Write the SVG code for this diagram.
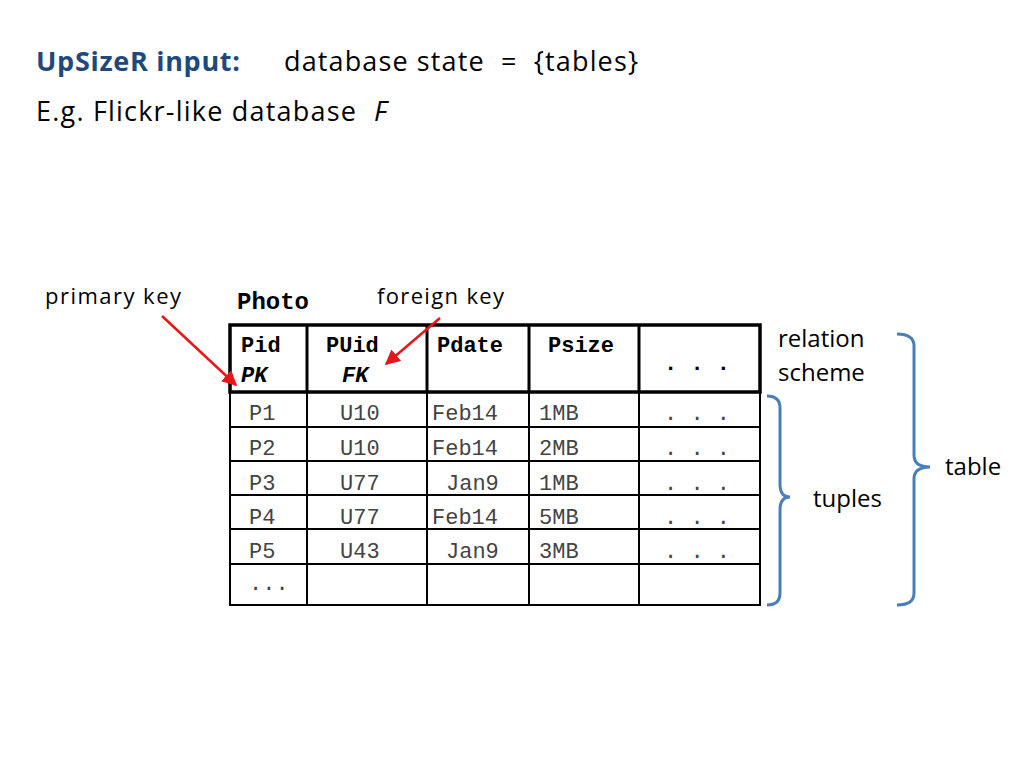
<svg xmlns="http://www.w3.org/2000/svg" width="1024" height="768" viewBox="0 0 1024 768">
<style>
.s{font-family:"Open Sans","Liberation Sans",sans-serif;font-size:24px;fill:#000;white-space:pre}
.m{font-family:"Liberation Mono",monospace;font-size:22px;fill:#444}
.h{font-family:"Liberation Mono",monospace;font-size:22px;font-weight:bold;fill:#000}
.g{stroke:#000;stroke-width:2;fill:none}
.b{stroke:#4a7ebb;stroke-width:3;fill:none}
.r{stroke:#e8161b;stroke-width:2.5;fill:none}
</style>
<defs><marker id="a" viewBox="0 0 10 10" refX="9" refY="5" markerWidth="6" markerHeight="6" orient="auto"><path d="M0,0L10,5L0,10z" fill="#e8161b"/></marker></defs>
<rect width="1024" height="768" fill="#fff"/>
<text x="36" y="71" class="s" style="font-weight:bold;fill:#1f497d;font-size:27px" textLength="204">UpSizeR input:</text>
<text x="284" y="71" class="s" style="font-size:27px" textLength="354">database state  =  {tables}</text>
<text x="36" y="121" class="s" style="font-size:27px" textLength="320">E.g. Flickr-like database</text>
<text x="374" y="121" class="s" style="font-size:27px;font-style:italic">F</text>
<text x="45" y="304" class="s" style="font-size:22px" textLength="136">primary key</text>
<text x="377" y="304" class="s" style="font-size:22px" textLength="127">foreign key</text>
<text x="237" y="309" class="h" style="font-size:24px">Photo</text>
<g id="table">
<rect x="230" y="325" width="530" height="280" class="g"/>
<rect x="230" y="325" width="530" height="67" fill="none" stroke="#000" stroke-width="3.5"/>
<path class="g" d="M307,325V605M427,325V605M529,325V605M639,325V605M230,427H760M230,461H760M230,495H760M230,529H760M230,564H760"/>
<path d="M307,325V392M427,325V392M529,325V392M639,325V392" stroke="#000" stroke-width="3"/>
<text x="241" y="352" class="h">Pid</text><text x="241" y="382" class="h" font-style="italic">PK</text>
<text x="326" y="352" class="h">PUid</text><text x="342" y="382" class="h" font-style="italic">FK</text>
<text x="437" y="352" class="h">Pdate</text><text x="548" y="352" class="h">Psize</text>
<text x="664" y="370" class="h">. . .</text>
<g class="m">
<text x="249" y="420">P1</text><text x="340" y="420">U10</text><text x="432" y="420">Feb14</text><text x="539" y="420">1MB</text><text x="664" y="420">. . .</text>
<text x="249" y="455">P2</text><text x="340" y="455">U10</text><text x="432" y="455">Feb14</text><text x="539" y="455">2MB</text><text x="664" y="455">. . .</text>
<text x="249" y="490">P3</text><text x="340" y="490">U77</text><text x="446" y="490">Jan9</text><text x="539" y="490">1MB</text><text x="664" y="490">. . .</text>
<text x="249" y="524">P4</text><text x="340" y="524">U77</text><text x="432" y="524">Feb14</text><text x="539" y="524">5MB</text><text x="664" y="524">. . .</text>
<text x="249" y="558">P5</text><text x="340" y="558">U43</text><text x="446" y="558">Jan9</text><text x="539" y="558">3MB</text><text x="664" y="558">. . .</text>
<text x="249" y="590">...</text>
</g>
</g>
<g id="connectors">
<path class="r" d="M162,316L236,385" marker-end="url(#a)"/>
<path class="r" d="M440,318L386,364" marker-end="url(#a)"/>
<path class="b" d="M767,396Q780,396 780,408V484Q780,497 790,497Q780,497 780,510V593Q780,605 767,605"/>
<path class="b" d="M897,334Q914,334 914,346V455Q914,467 930,467Q914,467 914,479V593Q914,605 897,605"/>
</g>
<text x="778" y="347" class="s">relation</text>
<text x="778" y="381" class="s">scheme</text>
<text x="813" y="507" class="s">tuples</text>
<text x="945" y="475" class="s">table</text>
</svg>
